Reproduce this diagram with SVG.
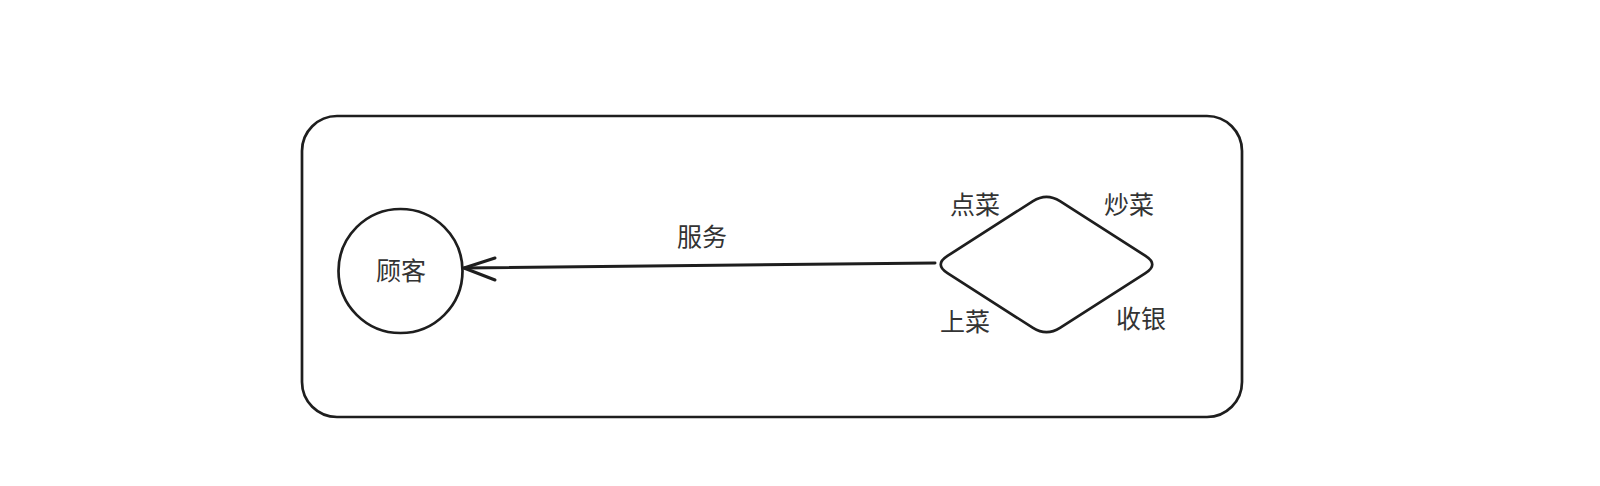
<svg xmlns="http://www.w3.org/2000/svg" width="1600" height="486" viewBox="0 0 1600 486">
<style>
.shape{fill:#ffffff;stroke:#1e1e1e;stroke-width:2.7;stroke-linejoin:round;stroke-linecap:round}
.lbl{font-family:"Liberation Sans","Noto Sans CJK SC",sans-serif;font-size:25px;fill:#333333;text-anchor:middle;dominant-baseline:central}
.conn{fill:none;stroke:#1e1e1e;stroke-width:3;stroke-linecap:round;stroke-linejoin:round}
</style>
<rect width="1600" height="486" fill="#ffffff"/>
<g id="frame">
<rect class="shape" x="302" y="116" width="940" height="301" rx="35" ry="35"/>
</g>
<g id="customer">
<ellipse class="shape" cx="400.5" cy="271" rx="62" ry="62"/>
<text class="lbl" x="401" y="271">顾客</text>
</g>
<g id="restaurant">
<path class="shape" d="M1033,201.1 Q1046.5,192.5 1060,201.1 L1145.5,255.9 Q1159,264.5 1145.5,273.1 L1060,327.9 Q1046.5,336.5 1033,327.9 L947.5,273.1 Q934,264.5 947.5,255.9 Z"/>
<text class="lbl" x="975" y="205">点菜</text>
<text class="lbl" x="1129" y="205">炒菜</text>
<text class="lbl" x="965" y="322">上菜</text>
<text class="lbl" x="1141" y="319">收银</text>
</g>
<g id="connectors">
<path class="conn" d="M935,263 L464,268"/>
<path class="conn" d="M495,258 L464,268 L495,280"/>
<text class="lbl" x="702" y="237">服务</text>
</g>
</svg>
